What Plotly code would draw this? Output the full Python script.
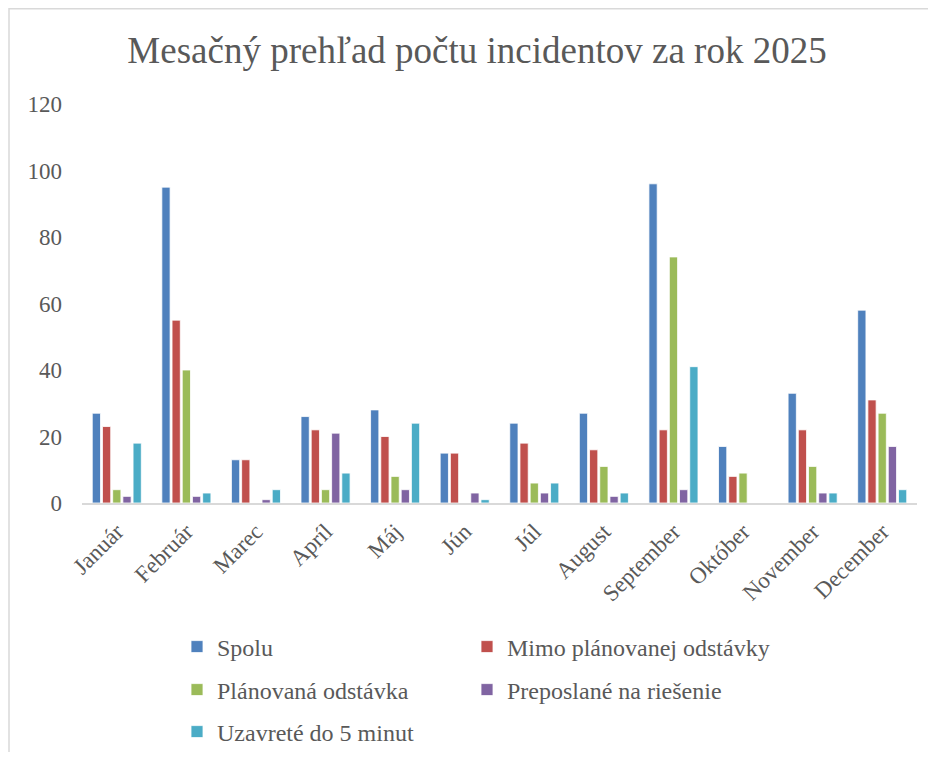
import plotly.graph_objects as go

months = ["Január", "Február", "Marec", "Apríl", "Máj", "Jún", "Júl",
          "August", "September", "Október", "November", "December"]
spolu = [27, 95, 13, 26, 28, 15, 24, 27, 96, 17, 33, 58]
mimo = [23, 55, 13, 22, 20, 15, 18, 16, 22, 8, 22, 31]
planovana = [4, 40, 0, 4, 8, 0, 6, 11, 74, 9, 11, 27]
preposlane = [2, 2, 1, 21, 4, 3, 3, 2, 4, 0, 3, 17]
uzavrete = [18, 3, 4, 9, 24, 1, 6, 3, 41, 0, 3, 4]

series_names = ["Spolu", "Mimo plánovanej odstávky", "Plánovaná odstávka",
                "Preposlané na riešenie", "Uzavreté do 5 minut"]
series_values = [spolu, mimo, planovana, preposlane, uzavrete]
series_colors = ["#4F81BD", "#C0504D", "#9BBB59", "#8064A2", "#4BACC6"]
legend_ids = ["legend", "legend2", "legend3", "legend4", "legend5"]

FONT = "Liberation Serif"
GRAY = "#595959"

# page body has an 8px margin; work in figure coordinates
OFF = 8
W, H = 936 - 2 * OFF, 760 - 2 * OFF
L = 82 - OFF
R = W - (917 - OFF)
T = 104 - OFF
B = H - (503 - OFF)
pw, ph = W - L - R, H - T - B


def px(xr):
    return ((xr - OFF) - L) / pw


def py(yr):
    return ((H - B) - (yr - OFF)) / ph


fig = go.Figure()
for name, vals, col, lg in zip(series_names, series_values, series_colors, legend_ids):
    fig.add_trace(go.Bar(
        x=months, y=vals, name=name, legend=lg,
        marker=dict(color=col, line=dict(color="white", width=0.8)),
    ))

leg_common = dict(orientation="h", xanchor="left", yanchor="middle",
                  font=dict(family=FONT, size=24, color=GRAY),
                  bgcolor="rgba(0,0,0,0)", borderwidth=0)

col_x = [177, 467]
row_y = [647, 690, 732]
legend_pos = [(col_x[0], row_y[0]), (col_x[1], row_y[0]),
              (col_x[0], row_y[1]), (col_x[1], row_y[1]),
              (col_x[0], row_y[2])]
legends = {lg: dict(x=px(xx), y=py(yy), **leg_common)
           for lg, (xx, yy) in zip(legend_ids, legend_pos)}

fig.update_layout(
    width=W, height=H,
    margin=dict(l=L, r=R, t=T, b=B, autoexpand=False),
    paper_bgcolor="white", plot_bgcolor="white",
    font=dict(family=FONT, color=GRAY, size=20),
    title=dict(text="Mesačný prehľad počtu incidentov za rok 2025",
               x=(477 - OFF) / W, xanchor="center", y=1 - (50 - OFF) / H, yanchor="middle",
               font=dict(family=FONT, size=37, color=GRAY)),
    barmode="group", bargap=0.267, bargroupgap=0.19,
    showlegend=True,
    **legends,
    xaxis=dict(showgrid=False, showline=True, linecolor="#D9D9D9", linewidth=2,
               ticks="", tickangle=-45, automargin=False, ticklabelstandoff=4,
               tickfont=dict(family=FONT, size=23, color=GRAY)),
    yaxis=dict(range=[0, 120], dtick=20, showgrid=False, showline=False,
               zeroline=False, ticks="", ticklabelstandoff=19, automargin=False,
               tickfont=dict(family=FONT, size=23, color=GRAY)),
    shapes=[dict(type="rect", xref="paper", yref="paper",
                 x0=px(9), x1=px(960), y0=py(790), y1=py(8.8),
                 line=dict(color="#D9D9D9", width=1.5), fillcolor="rgba(0,0,0,0)")],
)

fig.write_html("out.html")
